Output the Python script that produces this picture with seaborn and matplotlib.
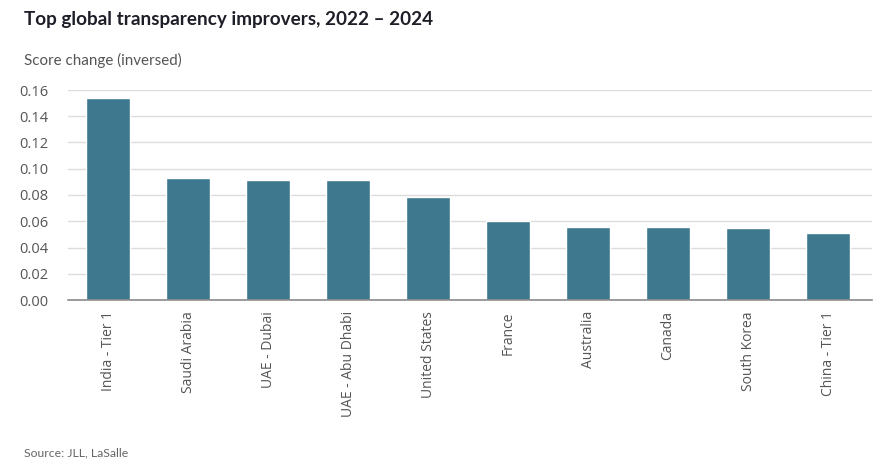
import matplotlib
matplotlib.use("Agg")
import matplotlib.pyplot as plt
import seaborn as sns
import pandas as pd

categories = ["India - Tier 1", "Saudi Arabia", "UAE - Dubai", "UAE - Abu Dhabi",
              "United States", "France", "Australia", "Canada", "South Korea", "China - Tier 1"]
values = [0.154, 0.093, 0.0917, 0.0917, 0.0782, 0.0601, 0.0558, 0.0553, 0.0545, 0.0507]
yticks = [0.00, 0.02, 0.04, 0.06, 0.08, 0.10, 0.12, 0.14, 0.16]

sns.set_theme(style="white")
plt.rcParams['font.family'] = ['Open Sans', 'DejaVu Sans']

df = pd.DataFrame({"cat": categories, "val": values})

fig = plt.figure(figsize=(8.9, 4.73), dpi=100)
ax = fig.add_axes([68/890, 1 - 300/473, (872-68)/890, (300-90)/473])

sns.barplot(data=df, x="cat", y="val", color="#3e788f", width=0.56, saturation=1, ax=ax, zorder=3)

ax.set_ylim(0, 0.16)
ax.set_xlim(-0.5, 9.55)
ax.set_yticks(yticks)
ax.set_yticklabels([f"{t:.2f}" for t in yticks])
ax.yaxis.grid(True, color="#dcdcdc", linewidth=1, zorder=0)
ax.set_axisbelow(True)
for s in ["top", "right", "left"]:
    ax.spines[s].set_visible(False)
ax.spines["bottom"].set_color("#8a8a8a")
ax.spines["bottom"].set_linewidth(1.2)
ax.spines["bottom"].set_zorder(5)
ax.set_xlabel("")
ax.set_ylabel("")
ax.tick_params(axis="y", length=0, pad=14, labelsize=10.5, labelcolor="#555555")
ax.tick_params(axis="x", length=0, pad=8, labelsize=10, labelcolor="#555555")
for lab in ax.get_xticklabels():
    lab.set_rotation(90)
    lab.set_va("top")
    lab.set_ha("center")
for lab in ax.get_yticklabels():
    lab.set_ha("right")

fig.text(24/890, 1 - 20/473, "Top global transparency improvers, 2022 – 2024",
         fontsize=13.6, fontweight="bold", color="#1e1e28", va="center", ha="left",
         family=["Lato", "DejaVu Sans"])
fig.text(24/890, 1 - 60/473, "Score change (inversed)", fontsize=10.9, color="#555555",
         va="center", ha="left", family=["Lato", "DejaVu Sans"])
fig.text(24/890, 1 - 453/473, "Source: JLL, LaSalle", fontsize=8.8, color="#666666",
         va="center", ha="left", family=["Liberation Sans Narrow", "Lato", "DejaVu Sans"])

fig.savefig("out.png", dpi=100)
